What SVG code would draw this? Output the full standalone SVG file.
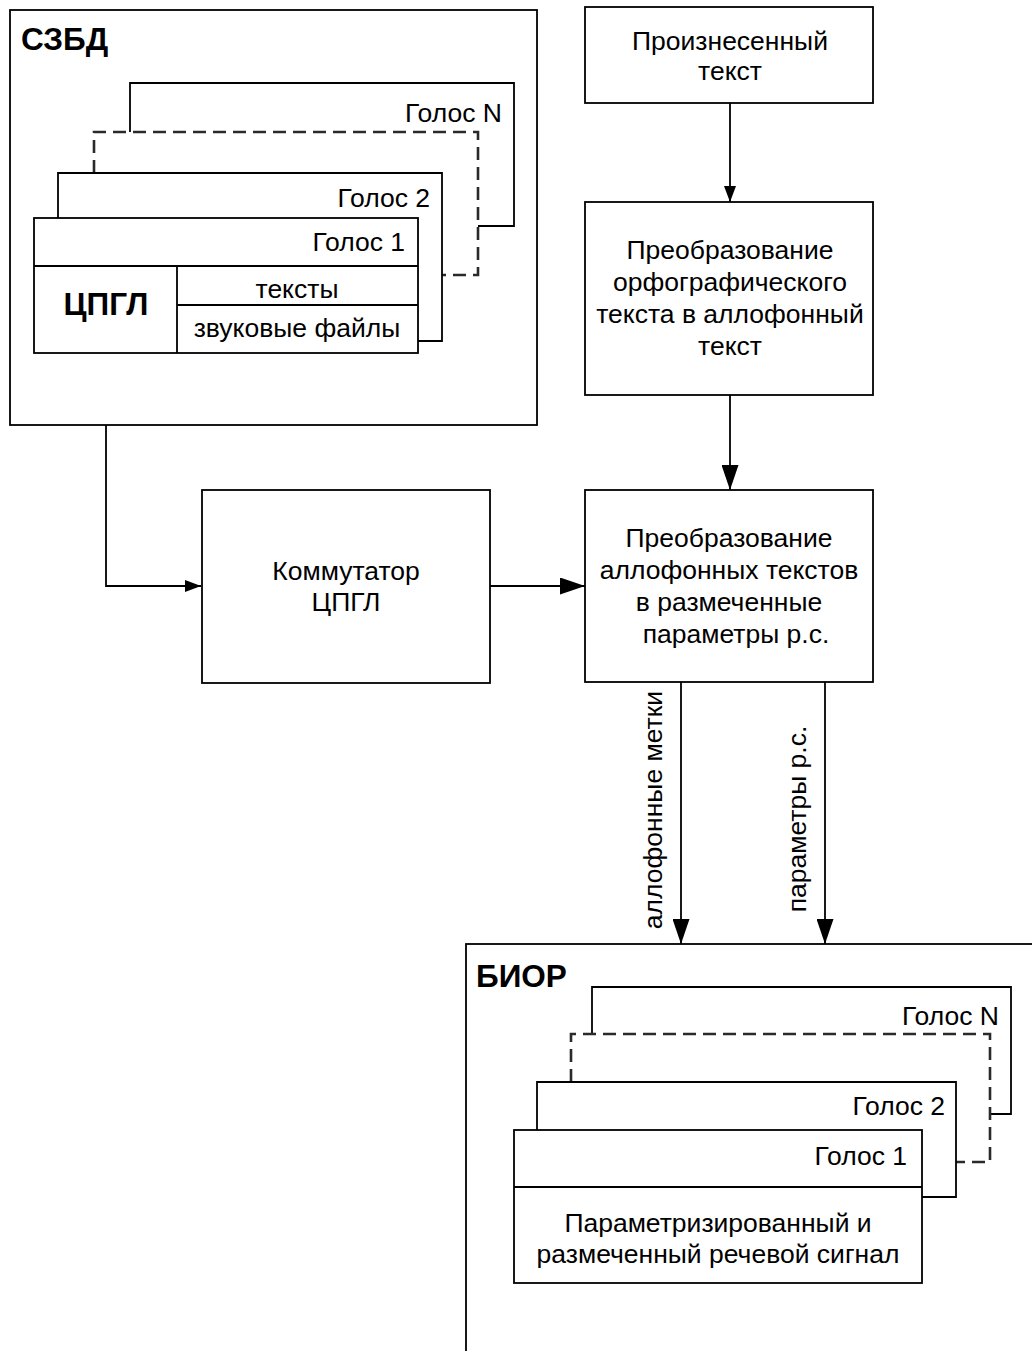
<svg xmlns="http://www.w3.org/2000/svg" width="1032" height="1351" viewBox="0 0 1032 1351">
<defs>
<style>
.ln{fill:none;stroke:#000;stroke-width:1.8}
.bx{fill:#fff;stroke:#000;stroke-width:1.8}
.ds{fill:none;stroke:#2a2a2a;stroke-width:2.6;stroke-dasharray:13 7}
.t{font-family:"Liberation Sans",Arial,sans-serif;font-size:26.5px;fill:#000}
.c{text-anchor:middle}
.e{text-anchor:end}
.b{font-family:"Liberation Sans",Arial,sans-serif;font-size:31.5px;font-weight:bold;fill:#000}
</style>
<marker id="aS" markerUnits="userSpaceOnUse" viewBox="0 0 16 12" refX="16" refY="6" markerWidth="16" markerHeight="12" orient="auto"><path d="M0,0 L16,6 L0,12 Z" fill="#000"/></marker>
<marker id="aL" markerUnits="userSpaceOnUse" viewBox="0 0 25 17" refX="25" refY="8.5" markerWidth="25" markerHeight="17" orient="auto"><path d="M0,0 L25,8.5 L0,17 Z" fill="#000"/></marker>
</defs>
<rect width="1032" height="1351" fill="#fff"/>

<g id="szbd">
<rect class="bx" x="10" y="10" width="527" height="415"/>
<text class="b" x="21" y="50">СЗБД</text>
<path class="ln" d="M130,132 V83 H514 V226 H478"/>
<text class="t e" x="502" y="122">Голос N</text>
<path class="ds" d="M94,173 V132 H478 V275 H442"/>
<path class="ln" d="M58,218 V173 H442 V341 H418"/>
<text class="t e" x="430" y="207">Голос 2</text>
<rect class="bx" x="34" y="218" width="384" height="135"/>
<path class="ln" d="M34,266 H418 M177,266 V353 M177,305 H418"/>
<text class="t e" x="405" y="251">Голос 1</text>
<text class="b c" x="106" y="315">ЦПГЛ</text>
<text class="t c" x="297" y="298">тексты</text>
<text class="t c" x="297" y="337">звуковые файлы</text>
</g>

<g id="kommutator">
<rect class="bx" x="202" y="490" width="288" height="193"/>
<text class="t c" x="346" y="580">Коммутатор</text>
<text class="t c" x="346" y="611">ЦПГЛ</text>
</g>

<g id="spoken">
<rect class="bx" x="585" y="7" width="288" height="96"/>
<text class="t c" x="730" y="50">Произнесенный</text>
<text class="t c" x="730" y="80">текст</text>
</g>

<g id="ortho">
<rect class="bx" x="585" y="202" width="288" height="193"/>
<text class="t c" x="730" y="259">Преобразование</text>
<text class="t c" x="730" y="291">орфографического</text>
<text class="t c" x="730" y="323">текста в аллофонный</text>
<text class="t c" x="730" y="355">текст</text>
</g>

<g id="allo">
<rect class="bx" x="585" y="490" width="288" height="192"/>
<text class="t c" x="729" y="547">Преобразование</text>
<text class="t c" x="729" y="579">аллофонных текстов</text>
<text class="t c" x="729" y="611">в размеченные</text>
<text class="t c" x="736" y="643">параметры р.с.</text>
</g>

<g id="bior">
<rect class="bx" x="466" y="944" width="600" height="420"/>
<text class="b" x="476" y="987">БИОР</text>
<path class="ln" d="M592,1034 V987 H1011 V1114 H990"/>
<text class="t e" x="999" y="1025">Голос N</text>
<path class="ds" d="M571,1082 V1034 H990 V1162 H956"/>
<path class="ln" d="M537,1130 V1082 H956 V1197 H922"/>
<text class="t e" x="945" y="1115">Голос 2</text>
<rect class="bx" x="514" y="1130" width="408" height="153"/>
<path class="ln" d="M514,1187 H922"/>
<text class="t e" x="907" y="1165">Голос 1</text>
<text class="t c" x="718" y="1232">Параметризированный и</text>
<text class="t c" x="718" y="1263">размеченный речевой сигнал</text>
</g>

<g id="connectors">
<path class="ln" d="M106,425 V586 H201" marker-end="url(#aS)"/>
<path class="ln" d="M490,586 H585" marker-end="url(#aL)"/>
<path class="ln" d="M730,103 V202" marker-end="url(#aS)"/>
<path class="ln" d="M730,395 V490" marker-end="url(#aL)"/>
<path class="ln" d="M681,682 V944" marker-end="url(#aL)"/>
<path class="ln" d="M825,682 V944" marker-end="url(#aL)"/>
<text class="t c" transform="translate(662,810) rotate(-90)">аллофонные метки</text>
<text class="t c" transform="translate(806,819) rotate(-90)">параметры р.с.</text>
</g>
</svg>
